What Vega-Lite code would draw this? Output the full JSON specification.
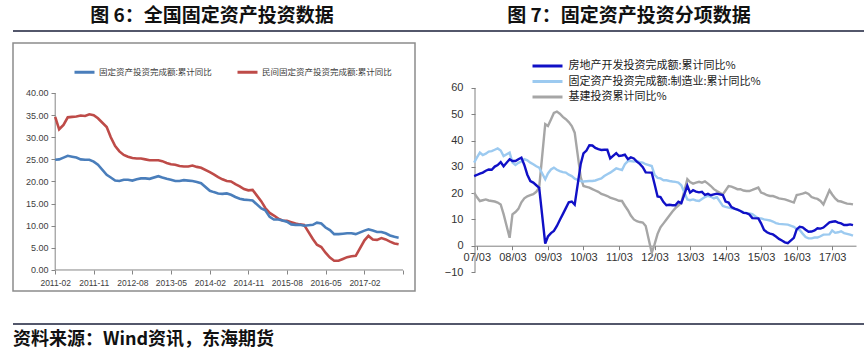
{
  "$schema": "https://vega.github.io/schema/vega-lite/v6.json",
  "padding": {"left": 12, "top": 0, "right": 0, "bottom": 0},
  "background": "white",
  "config": {"view": {"stroke": null}, "axis": {"grid": false, "labelOverlap": false}, "font": "Liberation Sans"},
  "datasets": {
    "fai": [
      {"d":"2011/02/01","a":24.9,"b":34.6},{"d":"2011/03/01","a":25.0,"b":31.8},{"d":"2011/04/01","a":25.4,"b":32.8},{"d":"2011/05/01","a":25.8,"b":34.5},{"d":"2011/06/01","a":25.6,"b":34.6},{"d":"2011/07/01","a":25.4,"b":34.7},{"d":"2011/08/01","a":25.0,"b":34.9},{"d":"2011/09/01","a":24.9,"b":34.8},{"d":"2011/10/01","a":24.9,"b":35.2},{"d":"2011/11/01","a":24.5,"b":35.0},{"d":"2011/12/01","a":23.8,"b":34.3},
      {"d":"2012/02/01","a":21.5,"b":32.3},{"d":"2012/03/01","a":20.9,"b":30.0},{"d":"2012/04/01","a":20.2,"b":28.0},{"d":"2012/05/01","a":20.1,"b":26.8},{"d":"2012/06/01","a":20.4,"b":26.0},{"d":"2012/07/01","a":20.4,"b":25.6},{"d":"2012/08/01","a":20.2,"b":25.3},{"d":"2012/09/01","a":20.5,"b":25.2},{"d":"2012/10/01","a":20.7,"b":25.2},{"d":"2012/11/01","a":20.7,"b":25.0},{"d":"2012/12/01","a":20.6,"b":24.8},
      {"d":"2013/02/01","a":21.2,"b":24.8},{"d":"2013/03/01","a":20.9,"b":24.6},{"d":"2013/04/01","a":20.6,"b":24.2},{"d":"2013/05/01","a":20.4,"b":23.9},{"d":"2013/06/01","a":20.1,"b":23.8},{"d":"2013/07/01","a":20.1,"b":23.5},{"d":"2013/08/01","a":20.3,"b":23.4},{"d":"2013/09/01","a":20.2,"b":23.4},{"d":"2013/10/01","a":20.1,"b":23.6},{"d":"2013/11/01","a":19.9,"b":23.3},{"d":"2013/12/01","a":19.6,"b":23.1},
      {"d":"2014/02/01","a":17.9,"b":22.1},{"d":"2014/03/01","a":17.6,"b":21.6},{"d":"2014/04/01","a":17.3,"b":21.0},{"d":"2014/05/01","a":17.2,"b":20.5},{"d":"2014/06/01","a":17.3,"b":20.1},{"d":"2014/07/01","a":17.0,"b":20.0},{"d":"2014/08/01","a":16.5,"b":19.4},{"d":"2014/09/01","a":16.1,"b":18.9},{"d":"2014/10/01","a":15.9,"b":18.3},{"d":"2014/11/01","a":15.8,"b":18.0},{"d":"2014/12/01","a":15.7,"b":18.1},
      {"d":"2015/02/01","a":13.9,"b":15.5},{"d":"2015/03/01","a":13.5,"b":14.0},{"d":"2015/04/01","a":12.0,"b":12.9},{"d":"2015/05/01","a":11.4,"b":12.3},{"d":"2015/06/01","a":11.4,"b":11.6},{"d":"2015/07/01","a":11.2,"b":11.2},{"d":"2015/08/01","a":10.9,"b":11.1},{"d":"2015/09/01","a":10.3,"b":10.8},{"d":"2015/10/01","a":10.2,"b":10.5},{"d":"2015/11/01","a":10.2,"b":10.3},{"d":"2015/12/01","a":10.0,"b":10.2},
      {"d":"2016/02/01","a":10.2,"b":7.0},{"d":"2016/03/01","a":10.7,"b":5.7},{"d":"2016/04/01","a":10.5,"b":5.2},{"d":"2016/05/01","a":9.6,"b":3.9},{"d":"2016/06/01","a":9.0,"b":2.8},{"d":"2016/07/01","a":8.1,"b":2.1},{"d":"2016/08/01","a":8.1,"b":2.1},{"d":"2016/09/01","a":8.2,"b":2.5},{"d":"2016/10/01","a":8.3,"b":2.9},{"d":"2016/11/01","a":8.3,"b":3.1},{"d":"2016/12/01","a":8.1,"b":3.2},
      {"d":"2017/02/01","a":8.9,"b":6.7},{"d":"2017/03/01","a":9.2,"b":7.7},{"d":"2017/04/01","a":8.9,"b":6.9},{"d":"2017/05/01","a":8.6,"b":6.8},{"d":"2017/06/01","a":8.6,"b":7.2},{"d":"2017/07/01","a":8.3,"b":6.9},{"d":"2017/08/01","a":7.8,"b":6.4},{"d":"2017/09/01","a":7.5,"b":6.0},{"d":"2017/10/01","a":7.3,"b":5.8}
    ],
    "seg": [
      {"d":"2007/02/01","re":26.5,"mfg":31.6,"infra":20.2},{"d":"2007/03/01","re":26.9,"mfg":33.5,"infra":18.5},{"d":"2007/04/01","re":27.4,"mfg":35.4,"infra":17.0},{"d":"2007/05/01","re":27.8,"mfg":34.5,"infra":17.3},{"d":"2007/06/01","re":28.5,"mfg":35.0,"infra":17.6},{"d":"2007/07/01","re":29.0,"mfg":35.8,"infra":17.2},{"d":"2007/08/01","re":28.9,"mfg":36.0,"infra":17.0},{"d":"2007/09/01","re":30.1,"mfg":36.5,"infra":16.8},{"d":"2007/10/01","re":30.7,"mfg":37.0,"infra":16.4},{"d":"2007/11/01","re":31.8,"mfg":36.2,"infra":15.7},{"d":"2007/12/01","re":30.2,"mfg":34.1,"infra":12.0},
      {"d":"2008/02/01","re":32.9,"mfg":35.4,"infra":3.0},{"d":"2008/03/01","re":32.2,"mfg":31.6,"infra":11.9},{"d":"2008/04/01","re":32.2,"mfg":30.7,"infra":12.8},{"d":"2008/05/01","re":32.9,"mfg":31.5,"infra":14.0},{"d":"2008/06/01","re":33.5,"mfg":32.0,"infra":16.5},{"d":"2008/07/01","re":30.7,"mfg":32.9,"infra":18.0},{"d":"2008/08/01","re":27.0,"mfg":32.5,"infra":18.8},{"d":"2008/09/01","re":24.6,"mfg":31.6,"infra":19.2},{"d":"2008/10/01","re":24.0,"mfg":31.0,"infra":19.6},{"d":"2008/11/01","re":23.0,"mfg":30.2,"infra":20.5},{"d":"2008/12/01","re":22.0,"mfg":29.7,"infra":22.2},
      {"d":"2009/02/01","re":0.8,"mfg":25.3,"infra":46.2},{"d":"2009/03/01","re":3.5,"mfg":27.5,"infra":45.5},{"d":"2009/04/01","re":4.8,"mfg":29.0,"infra":48.0},{"d":"2009/05/01","re":5.6,"mfg":29.7,"infra":50.5},{"d":"2009/06/01","re":7.5,"mfg":28.9,"infra":51.0},{"d":"2009/07/01","re":9.8,"mfg":28.4,"infra":50.2},{"d":"2009/08/01","re":12.0,"mfg":28.0,"infra":49.0},{"d":"2009/09/01","re":14.3,"mfg":27.8,"infra":48.1},{"d":"2009/10/01","re":16.5,"mfg":27.0,"infra":47.0},{"d":"2009/11/01","re":16.8,"mfg":26.5,"infra":45.5},{"d":"2009/12/01","re":15.6,"mfg":25.5,"infra":43.0},
      {"d":"2010/02/01","re":31.1,"mfg":24.6,"infra":26.0},{"d":"2010/03/01","re":35.1,"mfg":24.4,"infra":22.7},{"d":"2010/04/01","re":36.2,"mfg":24.5,"infra":22.4},{"d":"2010/05/01","re":38.2,"mfg":24.6,"infra":22.1},{"d":"2010/06/01","re":38.1,"mfg":24.6,"infra":21.5},{"d":"2010/07/01","re":37.2,"mfg":24.8,"infra":21.0},{"d":"2010/08/01","re":36.7,"mfg":25.2,"infra":20.5},{"d":"2010/09/01","re":36.4,"mfg":25.6,"infra":19.7},{"d":"2010/10/01","re":36.5,"mfg":26.5,"infra":19.3},{"d":"2010/11/01","re":36.5,"mfg":27.2,"infra":18.9},{"d":"2010/12/01","re":33.2,"mfg":27.8,"infra":18.3},
      {"d":"2011/02/01","re":35.2,"mfg":29.4,"infra":17.5},{"d":"2011/03/01","re":34.1,"mfg":29.1,"infra":17.1},{"d":"2011/04/01","re":34.3,"mfg":28.8,"infra":17.0},{"d":"2011/05/01","re":34.6,"mfg":31.0,"infra":15.2},{"d":"2011/06/01","re":32.9,"mfg":32.2,"infra":13.5},{"d":"2011/07/01","re":33.6,"mfg":32.2,"infra":11.5},{"d":"2011/08/01","re":33.2,"mfg":32.0,"infra":10.0},{"d":"2011/09/01","re":32.0,"mfg":32.2,"infra":9.3},{"d":"2011/10/01","re":31.1,"mfg":31.8,"infra":9.0},{"d":"2011/11/01","re":29.9,"mfg":31.6,"infra":8.8},{"d":"2011/12/01","re":27.9,"mfg":31.0,"infra":7.5},
      {"d":"2012/02/01","re":27.8,"mfg":30.3,"infra":-2.7},{"d":"2012/03/01","re":23.5,"mfg":27.0,"infra":0.5},{"d":"2012/04/01","re":18.7,"mfg":25.8,"infra":4.5},{"d":"2012/05/01","re":18.5,"mfg":25.6,"infra":7.0},{"d":"2012/06/01","re":16.6,"mfg":24.9,"infra":8.5},{"d":"2012/07/01","re":15.4,"mfg":24.9,"infra":10.0},{"d":"2012/08/01","re":15.6,"mfg":24.6,"infra":11.5},{"d":"2012/09/01","re":15.4,"mfg":24.4,"infra":13.0},{"d":"2012/10/01","re":15.4,"mfg":24.3,"infra":14.3},{"d":"2012/11/01","re":16.7,"mfg":24.0,"infra":15.3},{"d":"2012/12/01","re":16.2,"mfg":23.0,"infra":16.3},
      {"d":"2013/02/01","re":22.8,"mfg":17.6,"infra":25.3},{"d":"2013/03/01","re":20.2,"mfg":17.3,"infra":24.2},{"d":"2013/04/01","re":21.1,"mfg":17.6,"infra":23.6},{"d":"2013/05/01","re":20.6,"mfg":17.2,"infra":24.0},{"d":"2013/06/01","re":20.3,"mfg":17.0,"infra":24.3},{"d":"2013/07/01","re":20.5,"mfg":17.8,"infra":24.0},{"d":"2013/08/01","re":19.3,"mfg":18.5,"infra":24.5},{"d":"2013/09/01","re":19.7,"mfg":19.0,"infra":23.6},{"d":"2013/10/01","re":19.2,"mfg":18.6,"infra":22.7},{"d":"2013/11/01","re":19.5,"mfg":18.0,"infra":21.5},{"d":"2013/12/01","re":19.8,"mfg":18.5,"infra":20.8},
      {"d":"2014/02/01","re":19.3,"mfg":15.1,"infra":19.5},{"d":"2014/03/01","re":16.8,"mfg":14.8,"infra":21.0},{"d":"2014/04/01","re":16.4,"mfg":14.5,"infra":22.7},{"d":"2014/05/01","re":14.7,"mfg":14.2,"infra":22.5},{"d":"2014/06/01","re":14.1,"mfg":14.0,"infra":22.0},{"d":"2014/07/01","re":13.7,"mfg":13.7,"infra":21.5},{"d":"2014/08/01","re":13.2,"mfg":13.2,"infra":21.5},{"d":"2014/09/01","re":12.5,"mfg":12.8,"infra":21.0},{"d":"2014/10/01","re":12.4,"mfg":12.5,"infra":20.8},{"d":"2014/11/01","re":11.9,"mfg":12.3,"infra":20.8},{"d":"2014/12/01","re":10.5,"mfg":12.0,"infra":21.2},
      {"d":"2015/02/01","re":10.4,"mfg":10.4,"infra":22.1},{"d":"2015/03/01","re":8.5,"mfg":10.4,"infra":20.2},{"d":"2015/04/01","re":6.0,"mfg":10.0,"infra":19.8},{"d":"2015/05/01","re":5.1,"mfg":9.8,"infra":19.2},{"d":"2015/06/01","re":4.6,"mfg":9.6,"infra":18.9},{"d":"2015/07/01","re":4.3,"mfg":9.2,"infra":18.9},{"d":"2015/08/01","re":3.5,"mfg":8.6,"infra":18.5},{"d":"2015/09/01","re":2.6,"mfg":8.3,"infra":18.0},{"d":"2015/10/01","re":2.0,"mfg":8.2,"infra":17.8},{"d":"2015/11/01","re":1.3,"mfg":8.1,"infra":17.6},{"d":"2015/12/01","re":1.0,"mfg":8.0,"infra":17.2},
      {"d":"2016/02/01","re":3.0,"mfg":7.2,"infra":16.4},{"d":"2016/03/01","re":6.2,"mfg":6.4,"infra":19.3},{"d":"2016/04/01","re":7.2,"mfg":6.0,"infra":19.5},{"d":"2016/05/01","re":7.0,"mfg":4.6,"infra":19.8},{"d":"2016/06/01","re":6.1,"mfg":3.3,"infra":20.2},{"d":"2016/07/01","re":5.3,"mfg":2.8,"infra":19.7},{"d":"2016/08/01","re":5.4,"mfg":2.8,"infra":18.5},{"d":"2016/09/01","re":5.8,"mfg":3.1,"infra":18.1},{"d":"2016/10/01","re":6.6,"mfg":3.1,"infra":17.8},{"d":"2016/11/01","re":6.5,"mfg":3.6,"infra":17.0},{"d":"2016/12/01","re":6.9,"mfg":4.2,"infra":15.7},
      {"d":"2017/02/01","re":8.9,"mfg":4.3,"infra":21.1},{"d":"2017/03/01","re":9.1,"mfg":5.8,"infra":19.5},{"d":"2017/04/01","re":9.3,"mfg":4.9,"infra":18.0},{"d":"2017/05/01","re":8.8,"mfg":5.1,"infra":17.0},{"d":"2017/06/01","re":8.5,"mfg":5.5,"infra":16.8},{"d":"2017/07/01","re":7.9,"mfg":4.8,"infra":16.4},{"d":"2017/08/01","re":7.9,"mfg":4.5,"infra":16.0},{"d":"2017/09/01","re":8.1,"mfg":4.2,"infra":15.9},{"d":"2017/10/01","re":7.8,"mfg":3.8,"infra":15.7}
    ]
  },
  "spacing": 31,
  "resolve": {"scale": {"color": "independent", "x": "independent", "y": "independent"}, "legend": {"color": "independent"}},
  "vconcat": [
    {
      "spacing": 10,
      "resolve": {"scale": {"color": "independent", "x": "independent", "y": "independent"}, "legend": {"color": "independent"}},
      "vconcat": [
        {
          "width": 852,
          "height": 31,
          "layer": [
            {
              "data": {"values": [{"panel": "L", "title": "图 6：全国固定资产投资数据"}, {"panel": "R", "title": "图 7：固定资产投资分项数据"}]},
              "mark": {"type": "text", "font": "Noto Sans CJK SC", "fontSize": 19, "fontWeight": "bold", "color": "#111111"},
              "encoding": {
                "x": {"field": "panel", "type": "nominal", "scale": {"type": "point", "padding": 0.5216, "align": 0.4575}, "axis": null},
                "y": {"datum": 0.5, "type": "quantitative", "scale": {"domain": [0, 1]}, "axis": null},
                "text": {"field": "title"}
              }
            },
            {
              "data": {"values": [{}]},
              "mark": {"type": "rule", "color": "#1a1f3a", "strokeWidth": 1.5},
              "encoding": {"y": {"datum": 0, "type": "quantitative"}}
            }
          ]
        },
        {
          "spacing": 28,
          "resolve": {"scale": {"color": "independent", "x": "independent", "y": "independent"}, "legend": {"color": "independent"}},
          "hconcat": [
            {
              "width": 402,
              "height": 248,
              "view": {"stroke": "#8c8c8c", "strokeWidth": 1.5},
              "layer": [
                {
                  "data": {"values": [
                    {"d": "2011/02/01", "d2": "2017/11/01", "v": 0, "v2": 0},
                    {"d": "2011/02/01", "d2": "2011/02/01", "v": 0, "v2": 40}
                  ]},
                  "mark": {"type": "rule", "color": "#868686", "strokeWidth": 1},
                  "encoding": {
                    "x": {
                      "field": "d", "type": "temporal", "title": null,
                      "axis": {
                        "values": [
                          {"year": 2011, "month": 2, "date": 1}, {"year": 2011, "month": 11, "date": 1},
                          {"year": 2012, "month": 8, "date": 1}, {"year": 2013, "month": 5, "date": 1},
                          {"year": 2014, "month": 2, "date": 1}, {"year": 2014, "month": 11, "date": 1},
                          {"year": 2015, "month": 8, "date": 1}, {"year": 2016, "month": 5, "date": 1},
                          {"year": 2017, "month": 2, "date": 1}, {"year": 2017, "month": 11, "date": 1}
                        ],
                        "labelExpr": "year(datum.value) == 2017 && month(datum.value) == 10 ? '' : timeFormat(datum.value, '%Y-%m')",
                        "offset": -21, "domain": false, "tickSize": 4, "tickColor": "#868686",
                        "labelFontSize": 8.5, "labelFont": "Liberation Sans",
                        "labelColor": "#404040", "labelPadding": 4, "labelFlush": false, "labelOverlap": false, "title": null
                      }
                    },
                    "x2": {"field": "d2"},
                    "y": {
                      "field": "v", "type": "quantitative", "title": null,
                      "axis": {
                        "values": [0, 5, 10, 15, 20, 25, 30, 35, 40], "format": ".2f",
                        "offset": -42, "domain": false, "tickSize": 4, "tickColor": "#868686",
                        "labelFontSize": 9, "labelFont": "Liberation Sans",
                        "labelColor": "#404040", "labelPadding": 3, "labelOverlap": false, "title": null
                      }
                    },
                    "y2": {"field": "v2"}
                  }
                },
                {
                  "data": {"name": "fai"},
                  "transform": [{"fold": ["b", "a"], "as": ["series", "value"]}],
                  "mark": {"type": "line", "strokeWidth": 2.6},
                  "encoding": {
                    "x": {
                      "field": "d", "type": "temporal", "title": null,
                      "scale": {"domain": [{"year": 2010, "month": 4, "date": 8}, {"year": 2018, "month": 1, "date": 25}]},
                      "axis": {
                        "values": [
                          {"year": 2011, "month": 2, "date": 1}, {"year": 2011, "month": 11, "date": 1},
                          {"year": 2012, "month": 8, "date": 1}, {"year": 2013, "month": 5, "date": 1},
                          {"year": 2014, "month": 2, "date": 1}, {"year": 2014, "month": 11, "date": 1},
                          {"year": 2015, "month": 8, "date": 1}, {"year": 2016, "month": 5, "date": 1},
                          {"year": 2017, "month": 2, "date": 1}, {"year": 2017, "month": 11, "date": 1}
                        ],
                        "labelExpr": "year(datum.value) == 2017 && month(datum.value) == 10 ? '' : timeFormat(datum.value, '%Y-%m')",
                        "offset": -21, "domain": false, "tickSize": 4, "tickColor": "#868686",
                        "labelFontSize": 8.5, "labelFont": "Liberation Sans",
                        "labelColor": "#404040", "labelPadding": 4, "labelFlush": false, "labelOverlap": false, "title": null
                      }
                    },
                    "y": {
                      "field": "value", "type": "quantitative", "title": null,
                      "scale": {"domain": [-4.75, 51.3], "nice": false, "zero": false},
                      "axis": {
                        "values": [0, 5, 10, 15, 20, 25, 30, 35, 40], "format": ".2f",
                        "offset": -42, "domain": false, "tickSize": 4, "tickColor": "#868686",
                        "labelFontSize": 9, "labelFont": "Liberation Sans",
                        "labelColor": "#404040", "labelPadding": 3, "labelOverlap": false, "title": null
                      }
                    },
                    "color": {
                      "field": "series", "type": "nominal",
                      "scale": {"domain": ["a", "b"], "range": ["#4a7ebb", "#be4b48"]},
                      "legend": {
                        "orient": "none", "legendX": 60, "legendY": 17.5, "direction": "horizontal", "title": null,
                        "symbolType": "stroke", "symbolSize": 400, "symbolStrokeWidth": 3,
                        "labelFont": "Noto Sans CJK SC", "labelFontSize": 8.5, "labelColor": "#404040",
                        "labelOffset": 3, "columnPadding": 19, "labelLimit": 300,
                        "labelExpr": "datum.label == 'a' ? '固定资产投资完成额:累计同比' : '民间固定资产投资完成额:累计同比'"
                      }
                    }
                  }
                }
              ]
            },
            {
              "width": 381,
              "height": 229,
              "layer": [
                {
                  "data": {"values": [{"d": "2007/02/10", "v": -10, "v2": 60}]},
                  "mark": {"type": "rule", "color": "#808080", "strokeWidth": 1},
                  "encoding": {
                    "x": {
                      "field": "d", "type": "temporal", "title": null,
                      "axis": {
                        "values": [
                          {"year": 2007, "month": 3, "date": 1}, {"year": 2008, "month": 3, "date": 1},
                          {"year": 2009, "month": 3, "date": 1}, {"year": 2010, "month": 3, "date": 1},
                          {"year": 2011, "month": 3, "date": 1}, {"year": 2012, "month": 3, "date": 1},
                          {"year": 2013, "month": 3, "date": 1}, {"year": 2014, "month": 3, "date": 1},
                          {"year": 2015, "month": 3, "date": 1}, {"year": 2016, "month": 3, "date": 1},
                          {"year": 2017, "month": 3, "date": 1}
                        ],
                        "format": "%y/%m", "offset": -26.3, "domain": true, "domainColor": "#808080",
                        "tickSize": 4, "tickColor": "#808080", "labelFontSize": 11, "labelFont": "Liberation Sans",
                        "labelColor": "#333333", "labelPadding": 2, "labelFlush": false, "labelOverlap": false, "title": null
                      }
                    },
                    "y": {
                      "field": "v", "type": "quantitative", "title": null,
                      "axis": {
                        "values": [-10, 0, 10, 20, 30, 40, 50, 60],
                        "domain": false, "tickSize": 4, "tickColor": "#808080",
                        "labelFontSize": 11, "labelFont": "Liberation Sans", "labelColor": "#333333",
                        "labelPadding": 8, "labelOverlap": false, "title": null
                      }
                    },
                    "y2": {"field": "v2"}
                  }
                },
                {
                  "data": {"name": "seg"},
                  "transform": [{"fold": ["infra", "mfg", "re"], "as": ["series", "value"]}],
                  "mark": {"type": "line", "strokeWidth": 2.4},
                  "encoding": {
                    "x": {
                      "field": "d", "type": "temporal", "title": null,
                      "scale": {"domain": [{"year": 2007, "month": 2, "date": 10}, {"year": 2017, "month": 11, "date": 1}]},
                      "axis": {
                        "values": [
                          {"year": 2007, "month": 3, "date": 1}, {"year": 2008, "month": 3, "date": 1},
                          {"year": 2009, "month": 3, "date": 1}, {"year": 2010, "month": 3, "date": 1},
                          {"year": 2011, "month": 3, "date": 1}, {"year": 2012, "month": 3, "date": 1},
                          {"year": 2013, "month": 3, "date": 1}, {"year": 2014, "month": 3, "date": 1},
                          {"year": 2015, "month": 3, "date": 1}, {"year": 2016, "month": 3, "date": 1},
                          {"year": 2017, "month": 3, "date": 1}
                        ],
                        "format": "%y/%m", "offset": -26.3, "domain": true, "domainColor": "#808080",
                        "tickSize": 4, "tickColor": "#808080", "labelFontSize": 11, "labelFont": "Liberation Sans",
                        "labelColor": "#333333", "labelPadding": 2, "labelFlush": false, "labelOverlap": false, "title": null
                      }
                    },
                    "y": {
                      "field": "value", "type": "quantitative", "title": null,
                      "scale": {"domain": [-10, 77.1], "nice": false, "zero": false},
                      "axis": {
                        "values": [-10, 0, 10, 20, 30, 40, 50, 60],
                        "domain": false, "tickSize": 4, "tickColor": "#808080",
                        "labelFontSize": 11, "labelFont": "Liberation Sans", "labelColor": "#333333",
                        "labelPadding": 8, "labelOverlap": false, "title": null
                      }
                    },
                    "color": {
                      "field": "series", "type": "nominal",
                      "scale": {"domain": ["re", "mfg", "infra"], "range": ["#1010c6", "#9ccaf0", "#a6a6a6"]},
                      "legend": {
                        "orient": "none", "legendX": 63.5, "legendY": 14, "direction": "vertical", "title": null,
                        "symbolType": "M-2,0H2", "symbolSize": 225, "symbolStrokeWidth": 3,
                        "labelFont": "Noto Sans CJK SC", "labelFontSize": 11, "labelColor": "#222222",
                        "labelOffset": 12, "rowPadding": 0.5, "labelLimit": 400,
                        "labelExpr": "datum.label == 're' ? '房地产开发投资完成额:累计同比%' : datum.label == 'mfg' ? '固定资产投资完成额:制造业:累计同比%' : '基建投资累计同比%'"
                      }
                    }
                  }
                }
              ]
            }
          ]
        }
      ]
    },
    {
      "width": 852,
      "height": 32,
      "layer": [
        {
          "data": {"values": [{}]},
          "mark": {"type": "rule", "color": "#1a1f3a", "strokeWidth": 1.5},
          "encoding": {"y": {"datum": 1, "type": "quantitative", "scale": {"domain": [0, 1]}, "axis": null}}
        },
        {
          "data": {"values": [{"src": "资料来源：Wind资讯，东海期货"}]},
          "mark": {"type": "text", "align": "left", "font": "Noto Sans CJK SC", "fontSize": 18, "fontWeight": "bold", "color": "#111111"},
          "encoding": {
            "x": {"field": "src", "type": "nominal", "scale": {"type": "point", "padding": 0, "align": 0}, "axis": null},
            "y": {"datum": 0.5, "type": "quantitative"},
            "text": {"field": "src"}
          }
        }
      ]
    }
  ]
}
